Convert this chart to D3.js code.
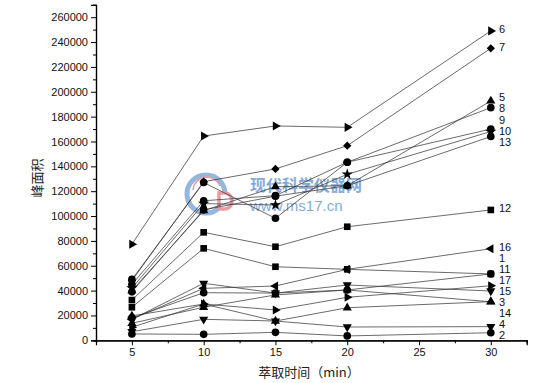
<!DOCTYPE html>
<html><head><meta charset="utf-8">
<script src="https://cdn.jsdelivr.net/npm/d3@7"></script>
<style>
html,body{margin:0;padding:0;background:#fff;}
svg{display:block;}
text{font-family:"Liberation Sans",Arial,sans-serif;}
</style></head>
<body>
<svg id="c" width="555" height="383"></svg>
<script>
// ---- data ----
const times = [5, 10, 15, 20, 30];
const seriesNames = ["1","2","3","4","5","6","7","8","9","10","11","12","13","14","15","16","17"];
const s1  = [26600, 74000, 59200, 57100, 53400];
const s2  = [5100, 4800, 6400, 3500, 6100];
const s3  = [19600, 29200, 15500, 26200, 31100];
const s4  = [6900, 16900, 15500, 10700, 11000];
const s5  = [40000, 104300, 123600, 124400, 192600];
const s6  = [77300, 164400, 172500, 171400, 249000];
const s7  = [48000, 127600, 137900, 156600, 235000];
const s8  = [45000, 112300, 116400, 143300, 187200];
const s9  = [49000, 127000, 98200, 143300, 170000];
const s10 = [42000, 110000, 108900, 133600, 168000];
const s11 = [18000, 38300, 38000, 40500, 53400];
const s12 = [32400, 86900, 75300, 91400, 104900];
const s13 = [39000, 105000, 116000, 124400, 164000];
const s14 = [13700, 26600, 36500, 40500, 31000];
const s15 = [16900, 45900, 38000, 44500, 39700];
const s16 = [17000, 41800, 43700, 57100, 73700];
const s17 = [10500, 29200, 24400, 34600, 43900];
const seriesValues = [s1,s2,s3,s4,s5,s6,s7,s8,s9,s10,s11,s12,s13,s14,s15,s16,s17];
const markerTypes = ["square","circle","up","down","up","right","diamond","circle","circle","star","circle","square","circle","up","down","left","right"];
const xTickValues = [5, 10, 15, 20, 25, 30];
const yTickValues = [0,20000,40000,60000,80000,100000,120000,140000,160000,180000,200000,220000,240000,260000];
const xTitle = "萃取时间（min）";
const yTitle = "峰面积";

// ---- layout ----
const svg = d3.select("#c");
const x = d3.scaleLinear().domain([2.5, 32.5]).range([96, 526.7]);
const y = d3.scaleLinear().domain([0, 270000]).range([340.3, 4.8]);

const xAxis = d3.axisBottom(x).tickValues(xTickValues).tickSize(5).tickPadding(3).tickFormat(d3.format("d"));
const xMinor = d3.axisBottom(x).tickValues(d3.range(7.5, 32.6, 5)).tickSize(3).tickFormat("");
const yAxis = d3.axisLeft(y).tickValues(yTickValues).tickSize(5).tickPadding(3).tickFormat(d3.format("d"));
const yMinor = d3.axisLeft(y).tickValues(d3.range(10000, 270001, 20000)).tickSize(3).tickFormat("");

function styleAxis(g){
  g.select(".domain").attr("stroke","#000").attr("stroke-width",1.2);
  g.selectAll(".tick line").attr("stroke","#000").attr("stroke-width",1);
  g.selectAll(".tick text").attr("fill","#111").style("font-size","11px").style("font-family","'Liberation Sans',Arial,sans-serif");
}
svg.append("g").attr("transform","translate(0,340.3)").call(xMinor).call(styleAxis);
svg.append("g").attr("transform","translate(0,340.3)").call(xAxis).call(styleAxis);
svg.append("g").attr("transform","translate(96,0)").call(yMinor).call(styleAxis);
svg.append("g").attr("transform","translate(96,0)").call(yAxis).call(styleAxis);

svg.append("text").attr("x",309).attr("y",377).attr("text-anchor","middle")
  .style("font-family","'Noto Sans CJK SC',sans-serif").style("font-size","13px").attr("fill","#222").text(xTitle);
svg.append("text").attr("transform","translate(42,178) rotate(-90)").attr("text-anchor","middle")
  .style("font-family","'Noto Sans CJK SC',sans-serif").style("font-size","13px").attr("fill","#222").text(yTitle);

// watermark
const wm = svg.append("g").attr("opacity",0.75);
wm.append("circle").attr("cx",206).attr("cy",194).attr("r",19).attr("fill","none").attr("stroke","#6f9fd2").attr("stroke-width",5);
wm.append("rect").attr("x",218).attr("y",192).attr("width",14).attr("height",18).attr("fill","#fff");
wm.append("path").attr("d","M219,193 h6 a7,8 0 0 1 0,16 h-6 z").attr("fill","none").attr("stroke","#e47b86").attr("stroke-width",3.5);
wm.append("path").attr("d","M193,190 A14,14 0 0 1 220,186").attr("fill","none").attr("stroke","#e47b86").attr("stroke-width",1.5);
wm.append("text").attr("x",250).attr("y",191).style("font-family","'Noto Sans CJK SC',sans-serif")
  .style("font-size","16px").style("font-weight","bold").attr("fill","#5b8fcc").text("现代科学仪器网");
wm.append("text").attr("x",250).attr("y",211).style("font-family","'Liberation Sans',Arial,sans-serif")
  .style("font-size","15px").attr("fill","#5b8fcc").text("www.ms17.cn");

// lines
const line = d3.line().x((d,i)=>x(times[i])).y(d=>y(d));
const plot = svg.append("g");
seriesValues.forEach(vals=>{
  plot.append("path").attr("d",line(vals)).attr("fill","none").attr("stroke","#3a3a3a").attr("stroke-width",0.75);
});

// markers
function symPath(t){
  switch(t){
    case "square": return d3.symbol(d3.symbolSquare,44)();
    case "circle": return d3.symbol(d3.symbolCircle,46)();
    case "diamond": return d3.symbol(d3.symbolSquare,34)();
    case "star": return d3.symbol(d3.symbolStar,40)();
    default: return d3.symbol(d3.symbolTriangle,36)();
  }
}
const rot = {up:0, down:180, left:-90, right:90, diamond:45};
seriesValues.forEach((vals,si)=>{
  const t = markerTypes[si];
  plot.selectAll(null).data(vals).enter().append("path")
    .attr("d", symPath(t))
    .attr("transform",(d,i)=>`translate(${x(times[i])},${y(d)}) rotate(${rot[t]||0})`)
    .attr("fill","#000");
});

// end labels with simple collision relaxation
const labels = seriesValues.map((vals,si)=>({name:seriesNames[si], target:y(vals[vals.length-1])-1.5}));
labels.forEach(l=>l.pos=l.target);
labels.sort((a,b)=>a.target-b.target);
const gap = 11;
for(let it=0; it<300; it++){
  for(let i=1;i<labels.length;i++){
    const a=labels[i-1], b=labels[i];
    const d=b.pos-a.pos;
    if(d<gap){ const m=(gap-d)/2; a.pos-=m; b.pos+=m; }
  }
}
svg.append("g").selectAll("text").data(labels).enter().append("text")
  .attr("x",499).attr("y",d=>d.pos).attr("dy","0.35em")
  .style("font-size","11px").attr("fill","#111").text(d=>d.name);
</script>
</body></html>
